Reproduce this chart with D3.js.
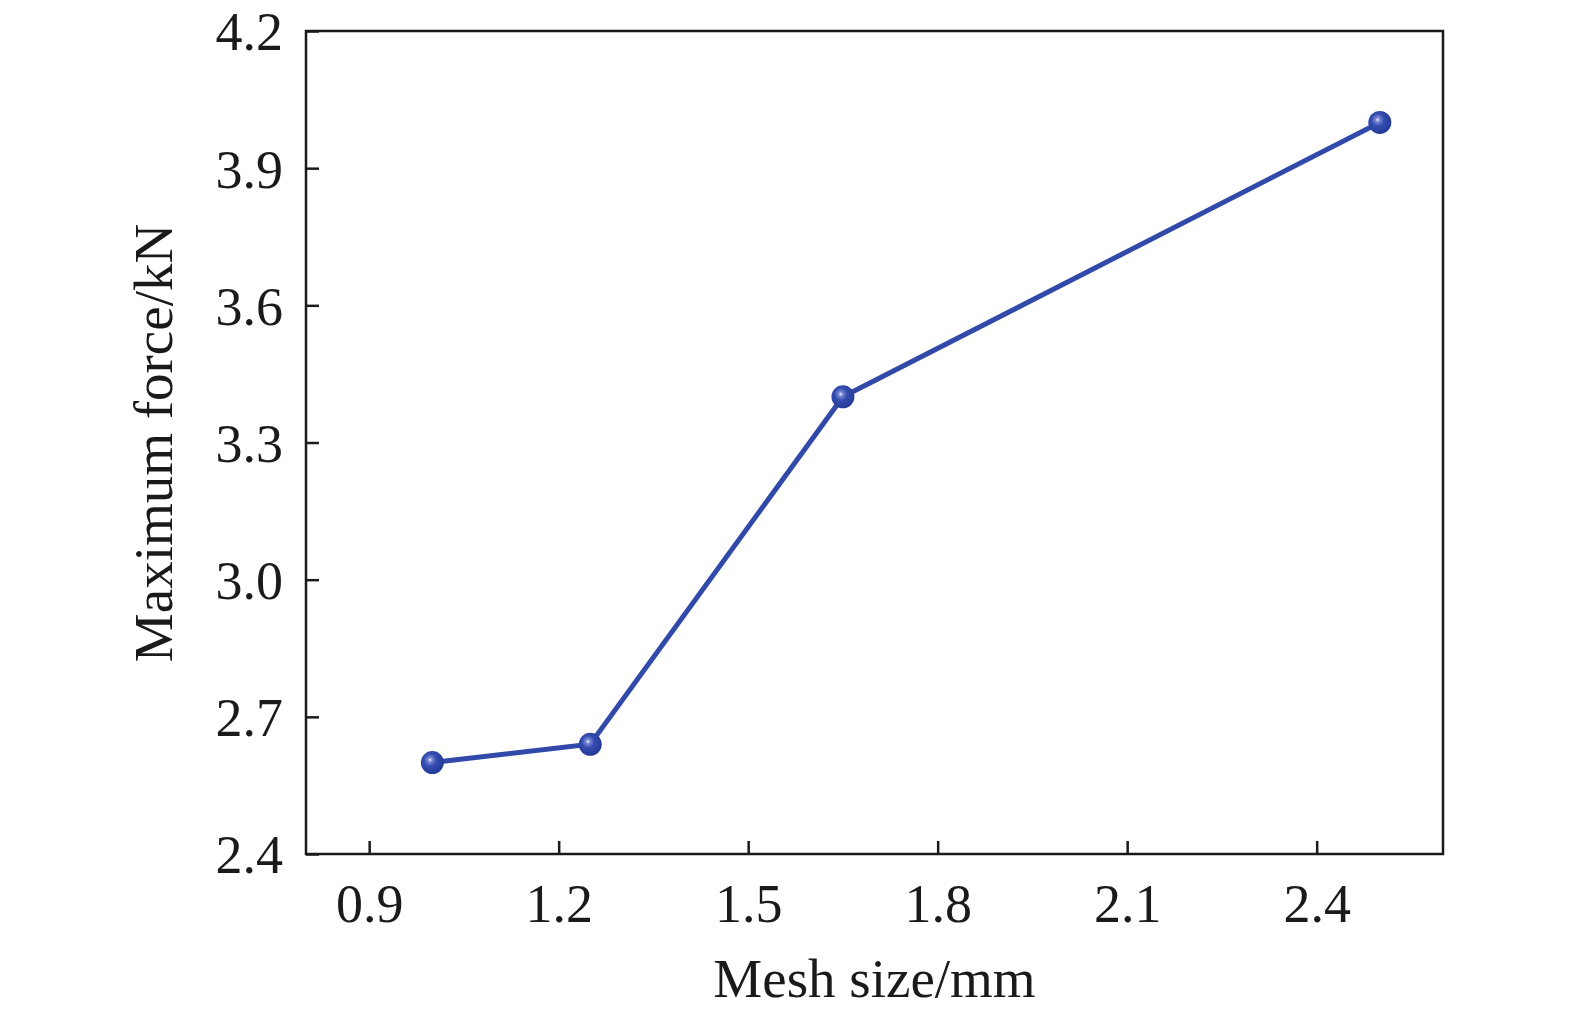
<!DOCTYPE html>
<html>
<head>
<meta charset="utf-8">
<script src="https://cdn.jsdelivr.net/npm/d3@7"></script>
<style>
  html, body { margin: 0; padding: 0; background: #fff; overflow: hidden; }
  svg { display: block; }
  text { font-family: "Liberation Serif", "Times New Roman", serif; fill: #1a1a1a; }
</style>
</head>
<body>
<script>
// data
var meshSize = [1.0, 1.25, 1.65, 2.5];
var maxForce = [2.6, 2.64, 3.4, 4.0];
var xTicks = [0.9, 1.2, 1.5, 1.8, 2.1, 2.4];
var yTicks = [2.4, 2.7, 3.0, 3.3, 3.6, 3.9, 4.2];

var margin = {top: 31, right: 132, bottom: 170, left: 306};
var width = 1575 - margin.left - margin.right;
var height = 1024 - margin.top - margin.bottom;

var svg = d3.select("body")
  .append("svg")
    .attr("width", 1575)
    .attr("height", 1024);

var defs = svg.append("defs");
var grad = defs.append("radialGradient")
    .attr("id", "ball")
    .attr("cx", "0.42").attr("cy", "0.4").attr("r", "0.6")
    .attr("fx", "0.4").attr("fy", "0.38");
grad.append("stop").attr("offset", "0").attr("stop-color", "#f4f4ff");
grad.append("stop").attr("offset", "0.15").attr("stop-color", "#7b8ad6");
grad.append("stop").attr("offset", "0.45").attr("stop-color", "#344db0");
grad.append("stop").attr("offset", "1").attr("stop-color", "#243a96");

var g = svg.append("g")
    .attr("transform", "translate(" + margin.left + "," + margin.top + ")");

var x = d3.scaleLinear().domain([0.8, 2.6]).range([0, width]);
var y = d3.scaleLinear().domain([2.4, 4.2]).range([height, 0]);

// frame
g.append("rect")
    .attr("width", width)
    .attr("height", height)
    .attr("fill", "none")
    .attr("stroke", "#1a1a1a")
    .attr("stroke-width", 2.5);

var bottomAxis = d3.axisBottom(x)
    .tickValues(xTicks)
    .tickFormat(d3.format(".1f"))
    .tickSizeInner(-13)
    .tickSizeOuter(0)
    .tickPadding(30);

var xAxis = g.append("g")
    .attr("transform", "translate(0," + height + ")")
    .call(bottomAxis);
xAxis.select(".domain").remove();
xAxis.selectAll("line").attr("stroke", "#1a1a1a").attr("stroke-width", 2.5);
xAxis.selectAll("text").attr("font-size", "54px").attr("fill", "#1a1a1a");

var leftAxis = d3.axisLeft(y)
    .tickValues(yTicks)
    .tickFormat(d3.format(".1f"))
    .tickSizeInner(-13)
    .tickSizeOuter(0)
    .tickPadding(23);

var yAxis = g.append("g").call(leftAxis);
yAxis.select(".domain").remove();
yAxis.selectAll("line").attr("stroke", "#1a1a1a").attr("stroke-width", 2.5);
yAxis.selectAll("text").attr("font-size", "54px").attr("fill", "#1a1a1a")
    .attr("dy", "0.35em");

var points = meshSize.map(function(d, i) { return {x: d, y: maxForce[i]}; });

var line = d3.line()
    .x(function(d) { return x(d.x); })
    .y(function(d) { return y(d.y); });

g.append("path")
    .datum(points)
    .attr("d", line)
    .attr("fill", "none")
    .attr("stroke", "#3149a9")
    .attr("stroke-width", 5);

g.selectAll("circle")
    .data(points)
  .enter()
  .append("circle")
    .attr("cx", function(d) { return x(d.x); })
    .attr("cy", function(d) { return y(d.y); })
    .attr("r", 11.5)
    .attr("fill", "url(#ball)");

g.append("text")
    .attr("x", width / 2)
    .attr("y", height + 143)
    .attr("font-size", "55px")
    .attr("text-anchor", "middle")
    .text("Mesh size/mm");

g.append("text")
    .attr("transform", "rotate(-90)")
    .attr("x", -(443 - margin.top))
    .attr("y", -134)
    .attr("font-size", "55px")
    .attr("text-anchor", "middle")
    .text("Maximum force/kN");
</script>
</body>
</html>
